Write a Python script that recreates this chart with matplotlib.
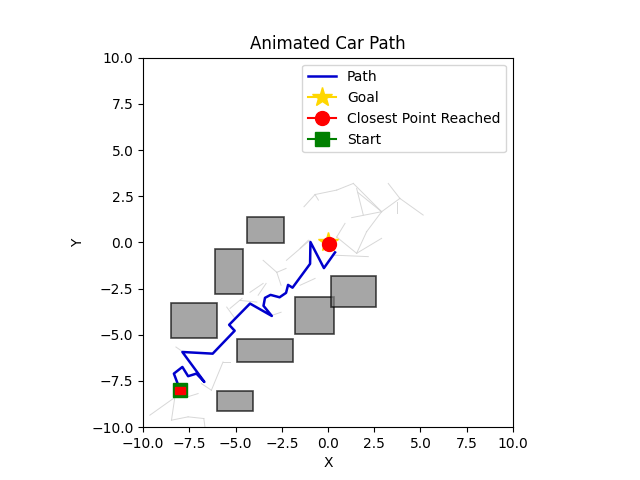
import matplotlib
matplotlib.use("Agg")
import matplotlib.pyplot as plt
from matplotlib.patches import Rectangle

# Obstacles: (x, y, width, height)
obstacles = [
    (-4.4, -0.05, 2.0, 1.45),
    (-6.1, -2.8, 1.5, 2.45),
    (-8.5, -5.15, 2.5, 1.85),
    (-1.8, -4.95, 2.15, 2.0),
    (0.15, -3.5, 2.45, 1.7),
    (-4.9, -6.45, 3.0, 1.2),
    (-6.0, -9.1, 1.95, 1.05),
]

# RRT tree edges (x1, y1, x2, y2)
tree_edges = [
    (-1.30, 1.93, -0.70, 2.59), (-0.70, 2.59, -0.52, 2.29), (-0.70, 2.59, 0.47, 2.83),
    (0.47, 2.83, 1.37, 3.19), (1.37, 3.19, 2.90, 1.66), (1.55, 2.92, 1.91, 1.48),
    (1.62, 2.70, 2.90, 1.66), (1.28, 1.34, 2.90, 1.66), (2.90, 1.66, 3.89, 2.38),
    (3.26, 3.19, 3.89, 2.38), (3.89, 2.38, 5.15, 1.48), (3.71, 2.20, 3.71, 1.57),
    (2.90, 1.66, 2.09, 0.58), (2.09, 0.58, 1.55, -0.59), (1.55, -0.59, 2.90, 0.22),
    (0.29, -0.69, 2.18, -0.77), (0.92, 1.03, 0.47, 0.29), (0.47, 0.29, 1.55, -0.59),
    (-1.51, -0.32, -1.06, 0.12), (-2.25, -0.97, -0.99, 0.11),
    (-3.51, -0.97, -2.77, -1.62), (-2.77, -1.62, -2.27, -1.41), (-2.77, -1.62, -2.54, -2.32),
    (-4.22, -2.70, -3.51, -2.22), (-3.78, -2.86, -3.35, -2.22), (-4.76, -3.14, -3.85, -3.23),
    (-5.48, -3.50, -5.03, -4.12), (-5.30, -3.57, -4.65, -3.03), (-3.04, -3.95, -2.54, -3.78),
    (-1.51, -2.32, -0.70, -1.95),
    (-9.64, -9.35, -8.29, -8.39), (-8.29, -8.39, -8.47, -9.62), (-8.47, -9.62, -7.57, -9.44),
    (-7.57, -9.44, -6.72, -9.53), (-6.72, -9.53, -6.66, -9.98), (-7.61, -8.36, -7.03, -8.18),
    (-6.85, -7.64, -6.31, -8.00), (-6.31, -8.00, -5.68, -6.47), (-5.68, -6.47, -5.28, -6.47),
    (-8.23, -5.66, -7.84, -5.93),
]

# Path found
path_x = [-8.0, -8.34, -7.88, -7.57, -7.12, -6.69, -7.88, -6.24, -5.05, -5.35, -4.22,
          -3.04, -3.49, -3.41, -3.11, -2.62, -2.27, -2.16, -1.92, -0.97, -0.95, -0.22, 0.38]
path_y = [-8.0, -7.10, -6.74, -7.24, -7.10, -7.55, -5.93, -6.02, -4.78, -4.46, -3.31,
          -3.98, -3.43, -3.00, -2.84, -2.97, -2.73, -2.30, -2.45, -1.16, 0.02, -1.39, -0.54]

start = (-8.0, -8.0)
goal = (0.0, 0.0)
closest = (0.05, -0.08)
car_size = (0.55, 0.4)

fig, ax = plt.subplots(figsize=(6.4, 4.8), dpi=100)

for (x1, y1, x2, y2) in tree_edges:
    ax.plot([x1, x2], [y1, y2], color="lightgray", linewidth=0.7, alpha=0.9)

for (ox, oy, w, h) in obstacles:
    ax.add_patch(Rectangle((ox, oy), w, h, facecolor="gray", edgecolor="black",
                           alpha=0.7, linewidth=1.2))

ax.plot(path_x, path_y, color="mediumblue", linewidth=1.8, label="Path")
ax.plot(goal[0], goal[1], marker="*", color="gold", markersize=15, label="Goal")
ax.plot(closest[0], closest[1], marker="o", color="red", markersize=10,
        label="Closest Point Reached")
ax.plot(start[0], start[1], marker="s", color="green", markersize=10, label="Start")
ax.add_patch(Rectangle((start[0] - car_size[0] / 2, start[1] - car_size[1] / 2),
                       car_size[0], car_size[1], color="red", zorder=5))

ax.set_xlim(-10, 10)
ax.set_ylim(-10, 10)
ax.set_aspect("equal")
ax.set_title("Animated Car Path")
ax.set_xlabel("X")
ax.set_ylabel("Y")
ax.legend(loc="upper right")

fig.savefig("out.png", dpi=100)
